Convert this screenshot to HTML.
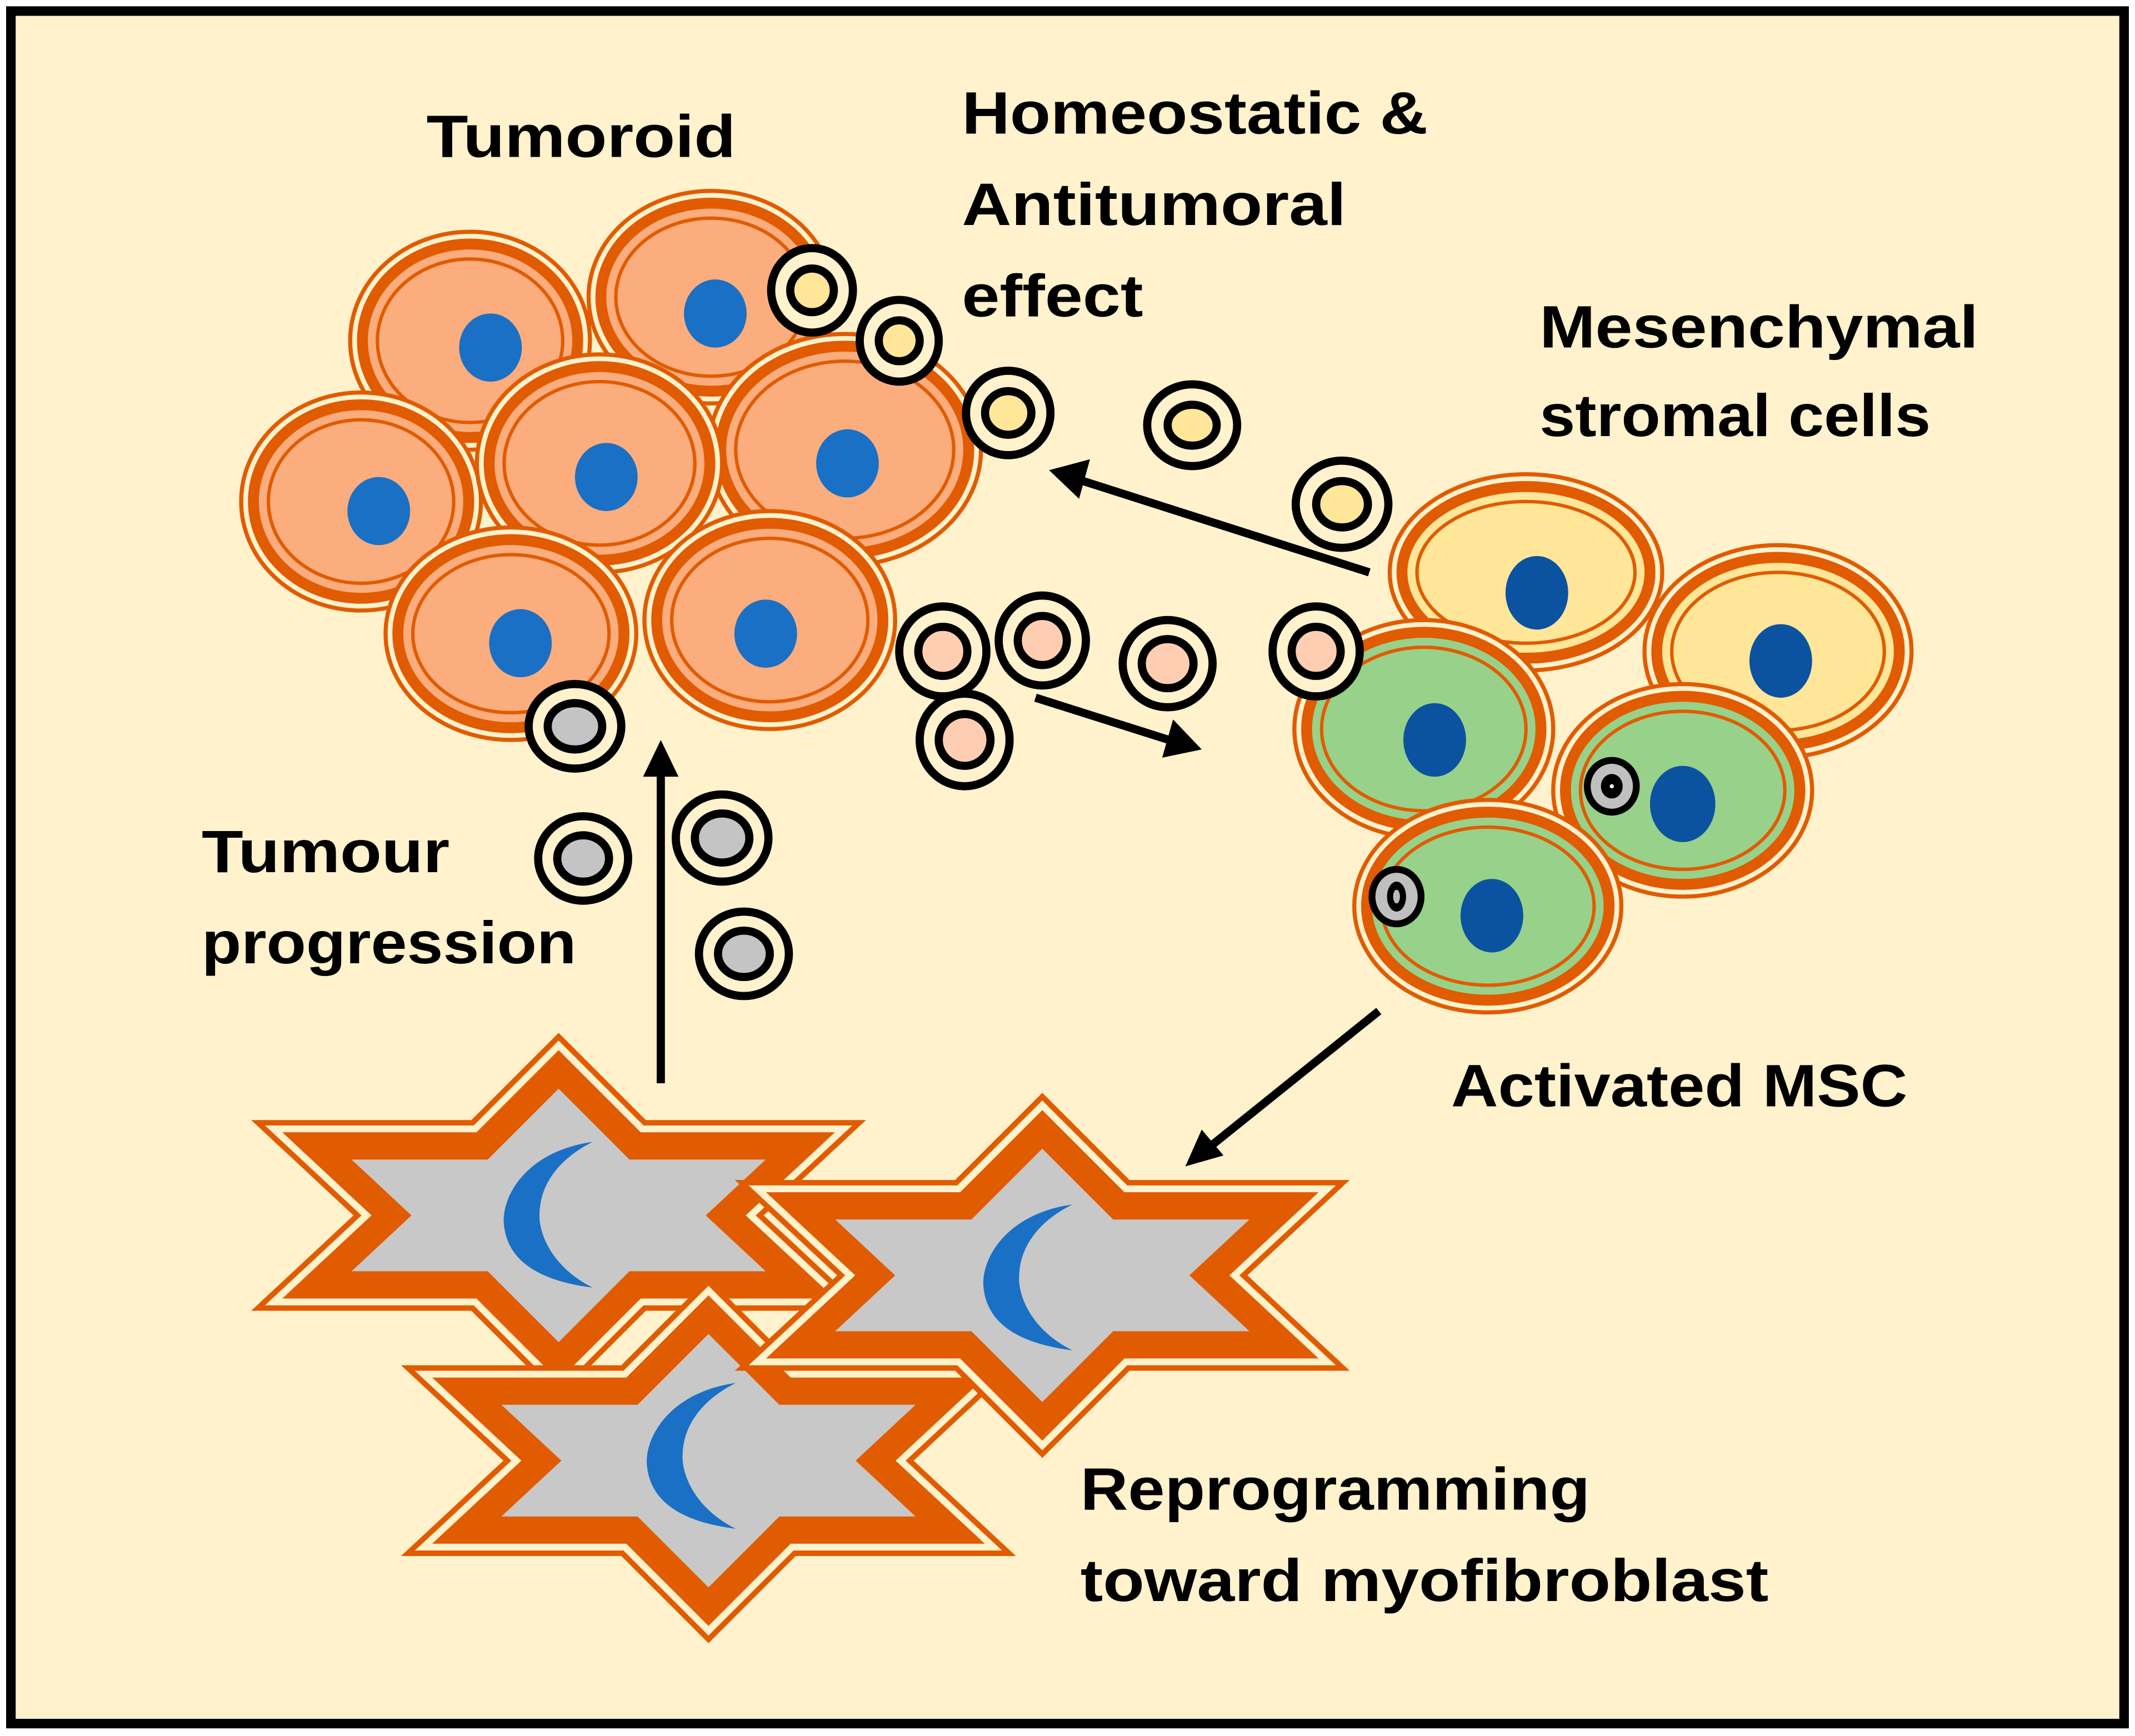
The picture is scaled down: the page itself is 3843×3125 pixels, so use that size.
<!DOCTYPE html>
<html><head><meta charset="utf-8"><style>
html,body{margin:0;padding:0;background:#fff}
svg{display:block}
text{font-family:"Liberation Sans",sans-serif;font-weight:bold;fill:#000;font-size:44px}
</style></head><body>
<svg width="3843" height="3125" viewBox="0 0 1567 1274" xmlns="http://www.w3.org/2000/svg">
<defs>
<polygon id="star" points="0,-93 52,-41 152,-41 108,0 152,41 52,41 0,93 -52,41 -152,41 -108,0 -152,-41 -52,-41"/>
<path id="cres" d="M30,-52 C-20,-45 -38,-10 -35,10 C-32,35 -10,50 30,55 C0,40 -10,15 -9,0 C-8,-25 10,-42 30,-52 Z" fill="#1A70C4"/>
</defs>
<rect x="0" y="0" width="1567" height="1274" fill="#fff"/>
<rect x="8" y="8" width="1551" height="1257" fill="#FFF2CC" stroke="#000" stroke-width="7"/>

<!-- stars -->
<g stroke-linejoin="miter" stroke-miterlimit="10">
<g transform="translate(410,892)">
<use href="#star" fill="none" stroke="#E15B00" stroke-width="58"/>
<use href="#star" fill="none" stroke="#FFF2CC" stroke-width="50"/>
<use href="#star" fill="none" stroke="#E15B00" stroke-width="40"/>
<use href="#star" fill="#C8C8C8"/>
<use href="#cres" transform="translate(-5,-2)"/>
</g>
<g transform="translate(520,1072)">
<use href="#star" fill="none" stroke="#E15B00" stroke-width="58"/>
<use href="#star" fill="none" stroke="#FFF2CC" stroke-width="50"/>
<use href="#star" fill="none" stroke="#E15B00" stroke-width="40"/>
<use href="#star" fill="#C8C8C8"/>
<use href="#cres" transform="translate(-10,-5)"/>
</g>
<g transform="translate(765,936)">
<use href="#star" fill="none" stroke="#E15B00" stroke-width="58"/>
<use href="#star" fill="none" stroke="#FFF2CC" stroke-width="50"/>
<use href="#star" fill="none" stroke="#E15B00" stroke-width="40"/>
<use href="#star" fill="#C8C8C8"/>
<use href="#cres" transform="translate(-8,0)"/>
</g>
</g>

<!-- tumour cells -->
<g stroke="#E15B00">
<g transform="translate(345,250)"><ellipse rx="88" ry="80" fill="#FFF2CC" stroke-width="3"/><ellipse rx="79" ry="71" fill="#FBAD7E" stroke-width="8"/><ellipse rx="68" ry="60" fill="none" stroke-width="2.5"/></g>
<g transform="translate(522,218)"><ellipse rx="90" ry="78" fill="#FFF2CC" stroke-width="3"/><ellipse rx="81" ry="69" fill="#FBAD7E" stroke-width="8"/><ellipse rx="70" ry="58" fill="none" stroke-width="2.5"/></g>
<g transform="translate(265,368)"><ellipse rx="88" ry="80" fill="#FFF2CC" stroke-width="3"/><ellipse rx="79" ry="71" fill="#FBAD7E" stroke-width="8"/><ellipse rx="68" ry="60" fill="none" stroke-width="2.5"/></g>
<g transform="translate(620,330)"><ellipse rx="100" ry="85" fill="#FFF2CC" stroke-width="3"/><ellipse rx="91" ry="76" fill="#FBAD7E" stroke-width="8"/><ellipse rx="80" ry="65" fill="none" stroke-width="2.5"/></g>
<g transform="translate(440,340)"><ellipse rx="90" ry="80" fill="#FFF2CC" stroke-width="3"/><ellipse rx="81" ry="71" fill="#FBAD7E" stroke-width="8"/><ellipse rx="70" ry="60" fill="none" stroke-width="2.5"/></g>
<g transform="translate(565,455)"><ellipse rx="92" ry="80" fill="#FFF2CC" stroke-width="3"/><ellipse rx="83" ry="71" fill="#FBAD7E" stroke-width="8"/><ellipse rx="72" ry="60" fill="none" stroke-width="2.5"/></g>
<g transform="translate(375,465)"><ellipse rx="92" ry="78" fill="#FFF2CC" stroke-width="3"/><ellipse rx="83" ry="69" fill="#FBAD7E" stroke-width="8"/><ellipse rx="72" ry="58" fill="none" stroke-width="2.5"/></g>
</g>
<g fill="#1A70C4">
<ellipse cx="360" cy="255" rx="23" ry="25"/><ellipse cx="525" cy="230" rx="23" ry="25"/>
<ellipse cx="278" cy="375" rx="23" ry="25"/><ellipse cx="445" cy="350" rx="23" ry="25"/>
<ellipse cx="622" cy="340" rx="23" ry="25"/><ellipse cx="562" cy="465" rx="23" ry="25"/>
<ellipse cx="382" cy="472" rx="23" ry="25"/>
</g>

<!-- MSC cells -->
<g stroke="#E15B00">
<g transform="translate(1120,420)"><ellipse rx="100" ry="72" fill="#FFF2CC" stroke-width="3"/><ellipse rx="91" ry="63" fill="#FFE699" stroke-width="8"/><ellipse rx="80" ry="52" fill="none" stroke-width="2.5"/></g>
<g transform="translate(1305,478)"><ellipse rx="98" ry="78" fill="#FFF2CC" stroke-width="3"/><ellipse rx="89" ry="69" fill="#FFE699" stroke-width="8"/><ellipse rx="78" ry="58" fill="none" stroke-width="2.5"/></g>
<g transform="translate(1045,535)"><ellipse rx="95" ry="80" fill="#FFF2CC" stroke-width="3"/><ellipse rx="86" ry="71" fill="#98D18A" stroke-width="8"/><ellipse rx="75" ry="60" fill="none" stroke-width="2.5"/></g>
<g transform="translate(1235,580)"><ellipse rx="95" ry="78" fill="#FFF2CC" stroke-width="3"/><ellipse rx="86" ry="69" fill="#98D18A" stroke-width="8"/><ellipse rx="75" ry="58" fill="none" stroke-width="2.5"/></g>
<g transform="translate(1092,665)"><ellipse rx="98" ry="78" fill="#FFF2CC" stroke-width="3"/><ellipse rx="89" ry="69" fill="#98D18A" stroke-width="8"/><ellipse rx="78" ry="58" fill="none" stroke-width="2.5"/></g>
</g>
<g fill="#0B52A0">
<ellipse cx="1128" cy="435" rx="23" ry="27"/><ellipse cx="1307" cy="485" rx="23" ry="27"/>
<ellipse cx="1053" cy="543" rx="23" ry="27"/><ellipse cx="1235" cy="590" rx="24" ry="28"/>
<ellipse cx="1095" cy="672" rx="23" ry="27"/>
</g>
<g stroke="#000">
<ellipse cx="1183" cy="577" rx="18" ry="19" fill="#C0C0C0" stroke-width="5"/><ellipse cx="1183" cy="577" rx="8" ry="9" fill="#000" stroke="none"/><circle cx="1183" cy="577" r="1.5" fill="#fff" stroke="none"/>
<ellipse cx="1025" cy="658" rx="18" ry="20" fill="#C0C0C0" stroke-width="5"/><ellipse cx="1025" cy="658" rx="7" ry="11" fill="#000" stroke="none"/><ellipse cx="1025" cy="658" rx="2.5" ry="5" fill="#bbb" stroke="none"/>
</g>

<!-- vesicles -->
<g stroke="#000">
<g fill="#FFE699" stroke-width="6">
<ellipse cx="596" cy="213" rx="30" ry="31" fill="#FFF2CC"/><ellipse cx="596" cy="213" rx="16" ry="16"/>
<ellipse cx="660" cy="250" rx="29" ry="30" fill="#FFF2CC"/><ellipse cx="660" cy="250" rx="15" ry="15"/>
<ellipse cx="740" cy="303" rx="31" ry="31" fill="#FFF2CC"/><ellipse cx="740" cy="303" rx="17" ry="16"/>
<ellipse cx="875" cy="312" rx="33" ry="30" fill="#FFF2CC"/><ellipse cx="875" cy="312" rx="18" ry="15"/>
<ellipse cx="985" cy="370" rx="34" ry="32" fill="#FFF2CC"/><ellipse cx="985" cy="370" rx="19" ry="17"/>
</g>
<g fill="#FFCDB2" stroke-width="6">
<ellipse cx="692" cy="478" rx="32" ry="33" fill="#FFF2CC"/><ellipse cx="692" cy="478" rx="18" ry="18"/>
<ellipse cx="765" cy="470" rx="32" ry="33" fill="#FFF2CC"/><ellipse cx="765" cy="470" rx="18" ry="18"/>
<ellipse cx="857" cy="487" rx="33" ry="32" fill="#FFF2CC"/><ellipse cx="857" cy="487" rx="19" ry="18"/>
<ellipse cx="966" cy="478" rx="32" ry="33" fill="#FFF2CC"/><ellipse cx="966" cy="478" rx="18" ry="18"/>
<ellipse cx="708" cy="543" rx="33" ry="34" fill="#FFF2CC"/><ellipse cx="708" cy="543" rx="19" ry="19"/>
</g>
<g fill="#C4C4C4" stroke-width="6">
<ellipse cx="422" cy="533" rx="34" ry="31" fill="#FFF2CC"/><ellipse cx="422" cy="533" rx="20" ry="17"/>
<ellipse cx="428" cy="630" rx="33" ry="31" fill="#FFF2CC"/><ellipse cx="428" cy="630" rx="19" ry="17"/>
<ellipse cx="530" cy="615" rx="34" ry="32" fill="#FFF2CC"/><ellipse cx="530" cy="615" rx="20" ry="18"/>
<ellipse cx="546" cy="700" rx="33" ry="31" fill="#FFF2CC"/><ellipse cx="546" cy="700" rx="19" ry="17"/>
</g>
</g>

<!-- arrows -->
<g stroke="#000" stroke-width="6" fill="#000">
<line x1="1005" y1="420" x2="795" y2="353"/><polygon stroke="none" points="770,345 800,337 792,366"/>
<line x1="760" y1="512" x2="858" y2="543"/><polygon stroke="none" points="882,550 853,556 861,528"/>
<line x1="485" y1="795" x2="485" y2="568"/><polygon stroke="none" points="485,543 472,570 498,570"/>
<line x1="1012" y1="742" x2="890" y2="840"/><polygon stroke="none" points="870,856 882,829 898,848"/>
</g>

<!-- labels -->
<text x="313" y="115" textLength="227" lengthAdjust="spacingAndGlyphs">Tumoroid</text>
<text x="706" y="98" textLength="342" lengthAdjust="spacingAndGlyphs">Homeostatic &amp;</text>
<text x="706" y="165" textLength="282" lengthAdjust="spacingAndGlyphs">Antitumoral</text>
<text x="706" y="232" textLength="133" lengthAdjust="spacingAndGlyphs">effect</text>
<text x="1130" y="255" textLength="322" lengthAdjust="spacingAndGlyphs">Mesenchymal</text>
<text x="1130" y="320" textLength="287" lengthAdjust="spacingAndGlyphs">stromal cells</text>
<text x="148" y="640" textLength="182" lengthAdjust="spacingAndGlyphs">Tumour</text>
<text x="148" y="707" textLength="275" lengthAdjust="spacingAndGlyphs">progression</text>
<text x="1065" y="812" textLength="335" lengthAdjust="spacingAndGlyphs">Activated MSC</text>
<text x="793" y="1108" textLength="374" lengthAdjust="spacingAndGlyphs">Reprogramming</text>
<text x="793" y="1175" textLength="505" lengthAdjust="spacingAndGlyphs">toward myofibroblast</text>
</svg>
</body></html>
